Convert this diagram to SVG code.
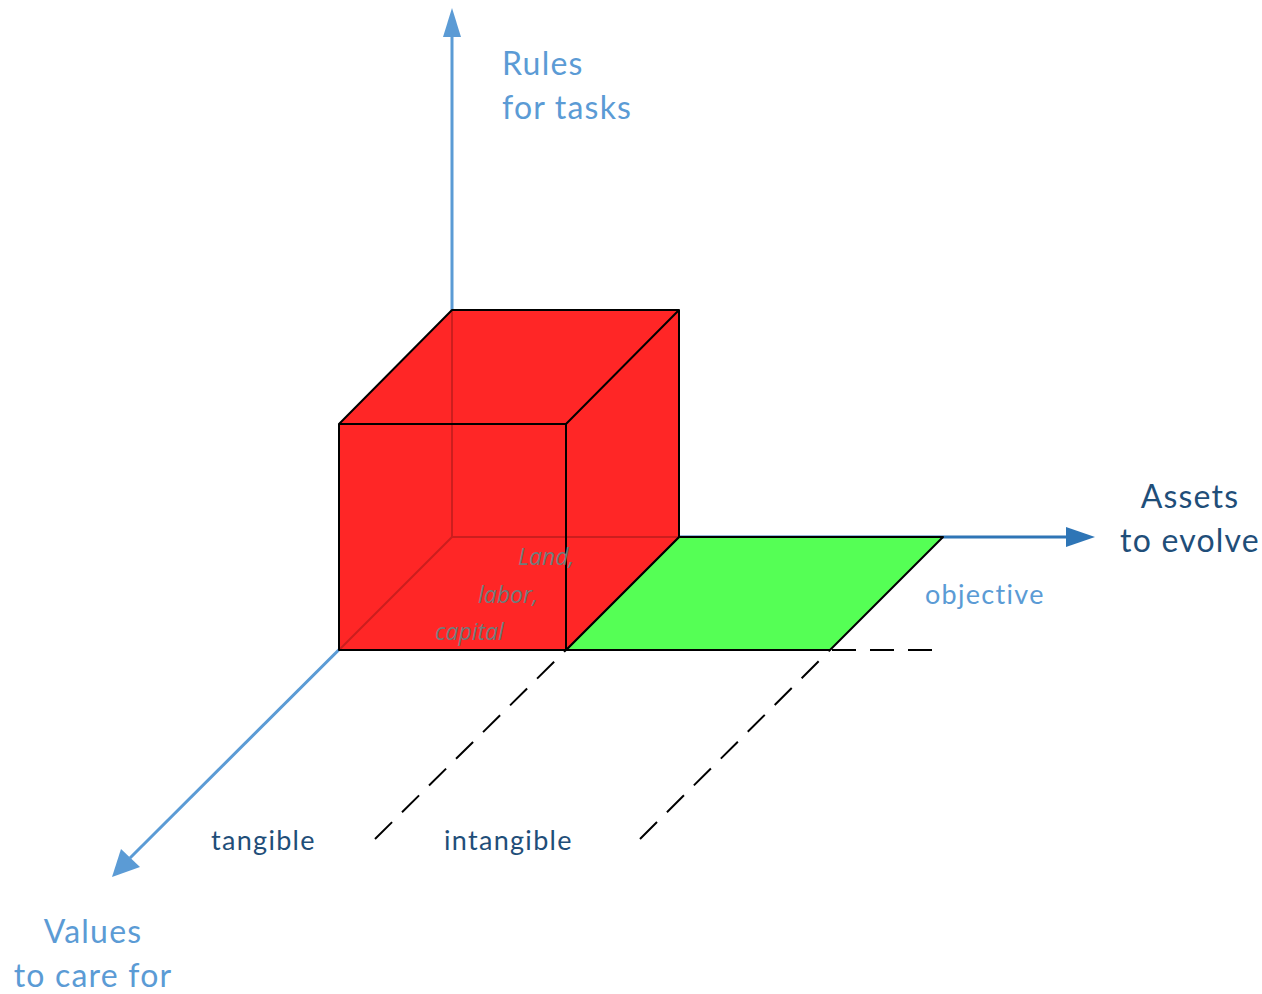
<svg xmlns="http://www.w3.org/2000/svg" width="1262" height="994" viewBox="0 0 1262 994">
<defs>
<style>
.axl{stroke:#5B9BD5;stroke-width:3;fill:none}
.axd{stroke:#2E75B6;stroke-width:3;fill:none}
.edge{stroke:#000;stroke-width:2;stroke-linejoin:round}
.hid{stroke:#CC1E1E;stroke-width:2;fill:none}
.dash{stroke:#000;stroke-width:2;stroke-dasharray:24 14;fill:none}
.lbl{font-family:Lato,"Open Sans",sans-serif;font-size:32px;letter-spacing:1.2px}
.sm{font-family:Lato,"Open Sans",sans-serif;font-size:27px;letter-spacing:1.3px}
.it{font-family:"Open Sans",Lato,sans-serif;font-size:23px;font-style:italic;fill:#6F7C7C}
.lb{fill:#5B9BD5}
.db{fill:#1F4E79}
</style>
</defs>
<rect width="1262" height="994" fill="#fff"/>

<g id="connectors">
<line class="axl" x1="452" y1="537" x2="452" y2="36"/>
<path d="M452,8 L461,37 L443,37 z" fill="#5B9BD5"/>
<line class="axd" x1="452" y1="537" x2="1068" y2="537"/>
<path d="M1095,537 L1066,527 L1066,547 z" fill="#2E75B6"/>
<line class="axl" x1="452" y1="537" x2="130" y2="858"/>
<path d="M112,877 L121,849 L140,867 z" fill="#5B9BD5"/>
<line class="dash" x1="566" y1="650" x2="940" y2="650"/>
<line class="dash" x1="375" y1="839" x2="566" y2="650"/>
<line class="dash" x1="640" y1="839" x2="830" y2="650"/>
</g>

<g id="plane">
<polygon class="edge" points="566,650 679,537 943,537 830,650" fill="#55FF55"/>
</g>

<g id="cube">
<polygon points="339,424 452,310 679,310 679,537 566,650 339,650" fill="#FF2626"/>
<line class="hid" x1="452" y1="310" x2="452" y2="537"/>
<line class="hid" x1="452" y1="537" x2="679" y2="537"/>
<line class="hid" x1="452" y1="537" x2="339" y2="650"/>
<polygon class="edge" points="339,424 566,424 566,650 339,650" fill="none"/>
<polyline class="edge" points="339,424 452,310 679,310 566,424" fill="none"/>
<polyline class="edge" points="679,310 679,537 566,650" fill="none"/>
</g>

<g id="labels">
<text class="lbl lb" x="502" y="75">Rules</text>
<text class="lbl lb" x="502" y="119">for tasks</text>
<text class="lbl db" x="1190" y="508" text-anchor="middle">Assets</text>
<text class="lbl db" x="1190" y="552" text-anchor="middle">to evolve</text>
<text class="sm lb" x="925" y="604">objective</text>
<text class="sm db" x="211" y="850">tangible</text>
<text class="sm db" x="444" y="850">intangible</text>
<text class="lbl lb" x="93" y="943" text-anchor="middle">Values</text>
<text class="lbl lb" x="93" y="987" text-anchor="middle">to care for</text>
<text class="it" x="518" y="565">Land,</text>
<text class="it" x="478" y="603">labor,</text>
<text class="it" x="435" y="640">capital</text>
</g>
</svg>
